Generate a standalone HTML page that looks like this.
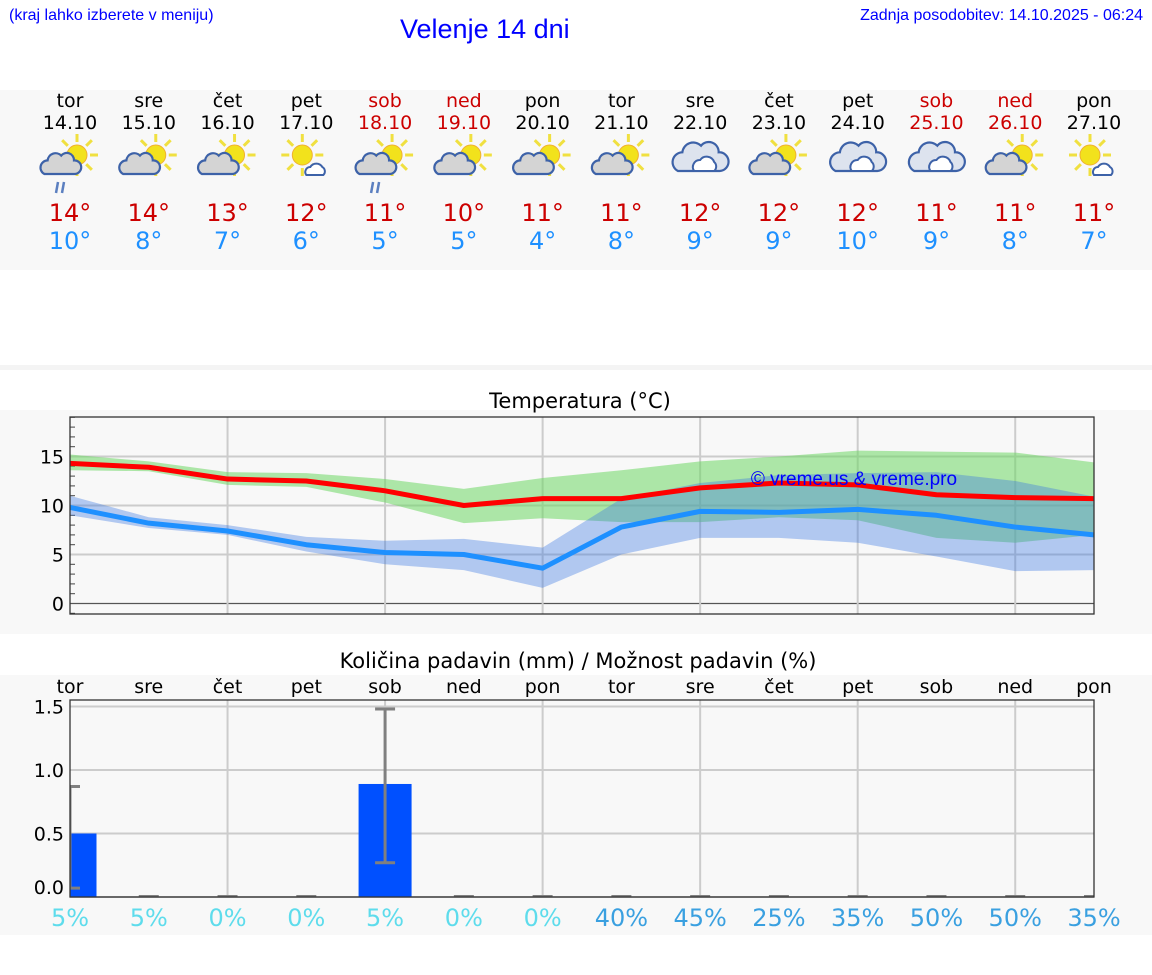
<!DOCTYPE html>
<html><head><meta charset="utf-8">
<style>
body{margin:0;width:1152px;height:975px;background:#fff;font-family:"DejaVu Sans","Liberation Sans",sans-serif;position:relative;overflow:hidden}
.abs{position:absolute}
</style></head>
<body>
<div class="abs" style="left:9px;top:7px;font:16px 'Liberation Sans',sans-serif;color:#00f">(kraj lahko izberete v meniju)</div>
<div class="abs" style="left:400px;top:14px;font:27px 'Liberation Sans',sans-serif;color:#00f">Velenje 14 dni</div>
<div class="abs" style="right:9px;top:7px;font:16px 'Liberation Sans',sans-serif;color:#00f">Zadnja posodobitev: 14.10.2025 - 06:24</div>
<svg class="abs" style="left:0;top:0" width="1152" height="975">
<rect x="0" y="90" width="1152" height="180" fill="#f8f8f8"/>
<rect x="0" y="365" width="1152" height="5" fill="#f4f4f4"/>
<rect x="0" y="410" width="1152" height="224" fill="#f8f8f8"/>
<rect x="0" y="675" width="1152" height="260" fill="#f8f8f8"/>
<g id="daily"></g>
<text x="580" y="408" font-size="21" text-anchor="middle" font-family="DejaVu Sans,sans-serif">Temperatura (°C)</text>
<g id="temp"></g>
<text x="578" y="668" font-size="21" text-anchor="middle" font-family="DejaVu Sans,sans-serif">Količina padavin (mm) / Možnost padavin (%)</text>
<g id="precip"></g>
</svg>
<script>
const days=["tor","sre","čet","pet","sob","ned","pon","tor","sre","čet","pet","sob","ned","pon"];
const dates=["14.10","15.10","16.10","17.10","18.10","19.10","20.10","21.10","22.10","23.10","24.10","25.10","26.10","27.10"];
const weekend=[0,0,0,0,1,1,0,0,0,0,0,1,1,0];
const icons=["rain","partly","partly","sunny","rain","partly","partly","partly","cloudy","partly","cloudy","cloudy","partly","sunny"];
const tmax=[14,14,13,12,11,10,11,11,12,12,12,11,11,11];
const tmin=[10,8,7,6,5,5,4,8,9,9,10,9,8,7];
const maxLine=[14.3,13.9,12.7,12.5,11.5,10.0,10.7,10.7,11.8,12.3,12.1,11.1,10.8,10.7];
const minLine=[9.8,8.2,7.4,6.0,5.2,5.0,3.6,7.8,9.4,9.3,9.6,9.0,7.8,7.0];
const maxLow=[13.6,13.5,12.1,11.9,10.3,8.2,8.7,8.3,8.3,8.8,8.5,6.7,6.2,7.0];
const maxHigh=[15.2,14.5,13.4,13.3,12.7,11.7,12.8,13.6,14.5,15.0,15.6,15.5,15.4,14.4];
const minLow=[9.0,7.7,7.0,5.3,4.0,3.4,1.6,5.0,6.7,6.7,6.2,4.8,3.3,3.4];
const minHigh=[11.0,8.8,8.0,6.8,6.4,6.6,5.7,10.7,12.3,13.1,13.3,13.4,12.5,10.9];
const precip=[0.5,0,0,0,0.89,0,0,0,0,0,0,0,0,0];
const errLow=[0.07,0,0,0,0.27,0,0,0,0,0,0,0,0,0];
const errHigh=[0.87,0,0,0,1.48,0,0,0,0,0,0,0,0,0];
const chance=[5,5,0,0,5,0,0,40,45,25,35,50,50,35];
const tempTicks=[0,5,10,15];
const precipTicks=[0.0,0.5,1.0,1.5];

const NS="http://www.w3.org/2000/svg";
function mk(parent,tag,attrs,text){const e=document.createElementNS(NS,tag);for(const k in attrs)e.setAttribute(k,attrs[k]);if(text!==undefined)e.textContent=text;parent.appendChild(e);return e;}
const X=i=>70+i*(1024/13);

const dg=document.getElementById('daily');
function cloud(g,cx,cy,s,fill){
  const p=`M${cx-22*s},${cy+10*s} a${9*s},${9*s} 0 0 1 ${4*s},${-17*s} a${10*s},${10*s} 0 0 1 ${17*s},${-6*s} a${9*s},${9*s} 0 0 1 ${16*s},${6*s} a${8*s},${8*s} 0 0 1 ${1*s},${17*s} z`;
  mk(g,'path',{d:p,fill:fill,stroke:'#3d62a8','stroke-width':2.2});
}
function sun(g,cx,cy,r){
  for(let a=0;a<360;a+=45){const t=a*Math.PI/180;mk(g,'line',{x1:cx+Math.cos(t)*(r+3),y1:cy+Math.sin(t)*(r+3),x2:cx+Math.cos(t)*(r+11),y2:cy+Math.sin(t)*(r+11),stroke:'#f0e040','stroke-width':3});}
  mk(g,'circle',{cx:cx,cy:cy,r:r,fill:'#f2e21c',stroke:'#f0b030','stroke-width':1});
}
days.forEach((d,i)=>{
  const x=X(i);const col=weekend[i]?'#cc0000':'#000';
  const t1=mk(dg,'text',{x:x,y:107,'font-size':19,'text-anchor':'middle',fill:col},d);
  
  
  const t2=mk(dg,'text',{x:x,y:129,'font-size':19,'text-anchor':'middle',fill:col},dates[i]);
  
  
  const g=mk(dg,'g',{});
  
  
  const ty=icons[i];
  if(ty==='cloudy'){cloud(g,x+2,160,1.1,'#dde3ee');mk(g,'path',{d:`M${x-6},171 a7,7 0 0 1 6,-11 a8,8 0 0 1 14,2 a6,6 0 0 1 0,9 z`,fill:'#fff',stroke:'#3d62a8','stroke-width':2});}
  else if(ty==='sunny'){sun(g,x-4,155,10);mk(g,'path',{d:`M${x},175 a5,5 0 0 1 4,-8 a7,7 0 0 1 12,0 a5,5 0 0 1 1,8 z`,fill:'#fff',stroke:'#3d62a8','stroke-width':2});}
  else{sun(g,x+7,155,10);cloud(g,x-8,166,0.8,'#d4d4d4');if(ty==='rain'){mk(g,'line',{x1:x-12,y1:182,x2:x-14,y2:193,stroke:'#5b7fc0','stroke-width':2.5});mk(g,'line',{x1:x-6,y1:182,x2:x-8,y2:193,stroke:'#5b7fc0','stroke-width':2.5});}}
  const a=mk(dg,'text',{x:x,y:221,'font-size':24,'text-anchor':'middle',fill:'#cc0000'},tmax[i]+'°');
  
  
  const b=mk(dg,'text',{x:x,y:249,'font-size':24,'text-anchor':'middle',fill:'#1e90ff'},tmin[i]+'°');
  
  
});

const tg=document.getElementById('temp');
const TY=v=>603.5-v*9.8;
mk(tg,'rect',{x:70,y:417,width:1024,height:197,fill:'#f8f8f8'});
tempTicks.forEach(v=>{mk(tg,'line',{x1:70,x2:1094,y1:TY(v),y2:TY(v),stroke:v===0?'#555':'#ccc','stroke-width':v===0?1.2:2});
  const t=mk(tg,'text',{x:64,y:TY(v)+7,'font-size':19,'text-anchor':'end'},v);
  
  });
for(let v=-1;v<=19;v++){if(v%5)mk(tg,'line',{x1:70,x2:75,y1:TY(v),y2:TY(v),stroke:'#444','stroke-width':1});}
for(let i=2;i<14;i+=2)mk(tg,'line',{x1:X(i),x2:X(i),y1:417,y2:614,stroke:'#ccc','stroke-width':2});
function band(lo,hi,fill,name){let d='M'+hi.map((v,i)=>X(i)+','+TY(v)).join('L')+'L'+lo.map((v,i)=>X(i)+','+TY(v)).reverse().join('L')+'Z';const p=mk(tg,'path',{d:d,fill:fill});}
band(maxLow,maxHigh,'rgba(110,215,100,0.55)','max-temp-band');
band(minLow,minHigh,'rgba(60,120,225,0.38)','min-temp-band');
const l1=mk(tg,'polyline',{points:maxLine.map((v,i)=>X(i)+','+TY(v)).join(' '),fill:'none',stroke:'#ff0000','stroke-width':5,'stroke-linejoin':'round'});


const l2=mk(tg,'polyline',{points:minLine.map((v,i)=>X(i)+','+TY(v)).join(' '),fill:'none',stroke:'#1e90ff','stroke-width':5,'stroke-linejoin':'round'});


const wm=mk(tg,'text',{x:854,y:485,'font-size':19,'text-anchor':'middle',fill:'#0000ff','font-family':'Liberation Sans,sans-serif'},'© vreme.us & vreme.pro');


mk(tg,'rect',{x:70,y:417,width:1024,height:197,fill:'none',stroke:'#333','stroke-width':1.3});

const pg=document.getElementById('precip');
const PY=v=>897-v*127;
mk(pg,'rect',{x:70,y:700,width:1024,height:197,fill:'#f8f8f8'});
precipTicks.forEach(v=>{mk(pg,'line',{x1:70,x2:1094,y1:PY(v),y2:PY(v),stroke:'#ccc','stroke-width':2});
  const t=mk(pg,'text',{x:64,y:PY(v)+(v===0?-3:7),'font-size':19,'text-anchor':'end'},v.toFixed(1));
  
  });
for(let i=2;i<14;i+=2)mk(pg,'line',{x1:X(i),x2:X(i),y1:700,y2:897,stroke:'#ccc','stroke-width':2});
const cp=mk(pg,'clipPath',{id:'pc'});mk(cp,'rect',{x:70,y:700,width:1024,height:197});
const bars=mk(pg,'g',{'clip-path':'url(#pc)'});
precip.forEach((v,i)=>{
  const x=X(i);
  if(v>0){const r=mk(bars,'rect',{x:x-26.5,y:PY(v),width:53,height:897-PY(v),fill:'#0050ff'});
    
    
    const e=mk(bars,'g',{stroke:'#808080','stroke-width':3});
    
    
    mk(e,'line',{x1:x,x2:x,y1:PY(errLow[i]),y2:PY(errHigh[i])});
    mk(e,'line',{x1:x-10,x2:x+10,y1:PY(errLow[i]),y2:PY(errLow[i])});
    mk(e,'line',{x1:x-10,x2:x+10,y1:PY(errHigh[i]),y2:PY(errHigh[i])});}
  else mk(bars,'line',{x1:x-10,x2:x+10,y1:896,y2:896,stroke:'#808080','stroke-width':2});
  const d=mk(pg,'text',{x:x,y:693,'font-size':19,'text-anchor':'middle'},days[i]);
  
  
  const c=mk(pg,'text',{x:x,y:926,'font-size':24,'text-anchor':'middle',fill:i<7?'#5edcec':'#3aa0e0'},chance[i]+'%');
  
  
});
mk(pg,'rect',{x:70,y:700,width:1024,height:197,fill:'none',stroke:'#333','stroke-width':1.3});
</script>
</body></html>
